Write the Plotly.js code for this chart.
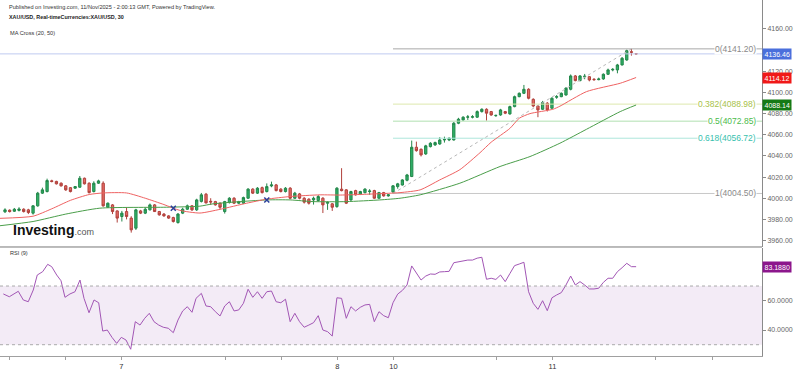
<!DOCTYPE html>
<html><head><meta charset="utf-8">
<script src="https://cdn.plot.ly/plotly-3.0.1.min.js"></script>
<style>html,body{margin:0;padding:0;background:#fff;}#chart{width:800px;height:371px;}</style>
</head><body><div id="chart"></div>
<script>
// ---- data (XAU/USD, 30 min) ----
const openP = [3987.2,3988.7,3987.7,3988.5,3989.6,3989.0,3985.9,3992.8,4004.8,4006.3,
4016.5,4015.9,4014.2,4011.7,4010.0,4009.5,4010.4,4018.9,4014.2,4006.3,
4014.2,4014.2,3991.5,3993.7,3988.0,3982.7,3987.4,3981.2,3971.7,3988.0,
3985.9,3989.0,3993.7,3987.4,3985.0,3983.3,3981.7,3977.0,3985.9,3989.6,
3992.8,3989.0,3997.0,4003.8,3997.1,3996.8,3995.3,3987.4,3995.9,4000.0,
3995.3,3995.3,4000.0,4008.6,4004.8,4010.0,4006.3,4011.6,4012.6,4008.6,
4006.3,4009.5,4000.0,4004.1,4000.0,3999.1,3998.4,3997.8,4000.0,3995.3,
3994.7,3992.1,4008.6,4007.9,3998.4,4007.2,4003.8,4005.3,4006.3,4007.2,
4000.0,4005.3,4002.2,4006.0,4011.0,4012.5,4017.0,4020.5,4048.2,4046.3,
4041.9,4048.8,4050.4,4051.3,4055.1,4055.1,4055.1,4070.9,4074.0,4076.6,
4076.6,4076.6,4081.9,4084.1,4081.9,4078.0,4078.7,4081.9,4079.7,4086.6,
4096.0,4099.2,4103.0,4093.5,4087.2,4084.1,4089.8,4085.1,4095.5,4096.0,
4097.6,4103.0,4115.6,4111.2,4114.9,4114.9,4112.5,4112.1,4112.8,4117.2,
4121.3,4121.3,4126.0,4130.7,4138.5,4136.7];
const highP = [3990.5,3989.5,3990.8,3991.5,3990.5,3990.0,3993.5,4006.0,4010.0,4018.5,
4017.5,4016.5,4015.0,4012.5,4010.5,4011.5,4021.0,4019.5,4015.0,4016.0,
4017.5,4016.0,3996.0,3994.5,3988.5,3988.0,3991.0,3983.0,3990.0,3989.0,
3991.0,3995.0,3994.5,3988.0,3986.0,3984.0,3982.5,3986.0,3991.0,3994.0,
3993.5,3999.5,4005.0,4005.0,4000.0,3997.5,3996.0,3997.5,4001.0,4001.0,
3997.5,4001.5,4009.5,4009.5,4010.5,4011.0,4014.0,4015.7,4013.5,4009.5,
4010.5,4010.5,4006.0,4005.0,4001.0,4000.0,4001.5,4003.0,4001.0,3997.0,
3995.5,4010.5,4028.4,4008.5,4007.0,4008.0,4007.0,4009.5,4008.6,4008.0,
4006.0,4006.0,4004.0,4012.5,4014.5,4018.0,4023.0,4054.5,4053.5,4047.0,
4050.5,4053.0,4053.5,4057.7,4058.2,4057.5,4072.0,4076.0,4077.5,4078.7,
4078.5,4083.0,4085.0,4085.0,4082.5,4079.0,4084.5,4082.5,4087.5,4097.0,
4100.0,4107.1,4104.0,4094.5,4088.0,4092.0,4091.0,4095.5,4097.5,4100.0,
4105.0,4117.0,4116.5,4116.5,4117.5,4115.5,4113.5,4114.0,4118.0,4122.5,
4123.0,4127.0,4133.5,4140.5,4141.2,4137.0];
const lowP = [3986.0,3986.5,3987.0,3987.5,3986.5,3985.0,3984.5,3992.0,4004.0,4005.5,
4015.0,4013.0,4011.0,4007.0,4005.5,4009.0,4010.0,4013.0,4004.5,4005.5,
4013.5,3992.0,3991.0,3985.0,3977.0,3978.0,3980.0,3967.5,3970.0,3985.0,
3985.0,3988.5,3987.0,3983.5,3982.5,3980.5,3977.0,3976.0,3985.0,3989.0,
3988.0,3988.0,3996.0,3995.0,3993.7,3993.0,3989.5,3985.5,3995.0,3994.5,
3994.5,3994.5,3999.5,4004.0,4004.0,4004.5,4005.5,4010.4,4006.5,4005.5,
4005.5,3999.0,3999.5,3999.0,3995.0,3994.0,3994.0,3997.0,3986.0,3989.0,
3988.0,3991.0,4006.5,3994.5,3997.5,4002.5,4003.0,4004.5,4003.2,3999.5,
3999.5,4001.5,4001.5,4004.5,4009.0,4012.0,4016.0,4020.0,4044.0,4039.5,
4041.0,4048.0,4049.5,4050.5,4052.6,4054.0,4054.5,4070.0,4073.5,4074.0,
4075.5,4076.0,4081.0,4073.4,4078.0,4077.0,4078.0,4079.5,4079.0,4086.0,
4095.5,4098.5,4093.5,4086.0,4076.6,4083.5,4082.0,4084.5,4094.0,4095.5,
4097.0,4102.0,4110.5,4110.5,4112.5,4110.5,4111.0,4111.5,4112.0,4116.5,
4120.0,4118.1,4125.5,4130.0,4134.8,4136.2];
const closeP = [3989.0,3987.4,3989.6,3989.8,3987.4,3986.5,3992.8,4004.8,4007.9,4016.7,
4015.8,4013.6,4011.7,4007.9,4006.3,4011.0,4018.9,4013.6,4005.3,4014.2,
4016.4,3992.8,3995.3,3987.4,3981.2,3985.9,3982.7,3970.1,3989.0,3985.9,
3989.6,3993.7,3987.4,3984.3,3983.3,3981.2,3978.0,3985.0,3989.6,3992.8,
3989.0,3998.4,4003.2,3995.6,3996.5,3993.7,3991.5,3996.8,4000.0,3995.3,
3996.8,4000.6,4008.6,4004.8,4009.5,4005.3,4011.0,4012.6,4007.2,4006.3,
4009.5,4000.0,4004.8,4000.0,3996.3,3995.3,4000.0,4001.6,3993.7,3995.9,
3991.5,4009.5,4007.2,3995.3,4006.3,4003.2,4006.3,4008.6,4006.8,4000.0,
4005.3,4002.2,4003.2,4011.7,4013.6,4017.3,4022.0,4048.2,4045.0,4041.0,
4049.5,4052.0,4052.6,4055.1,4055.5,4056.7,4070.9,4074.7,4076.6,4076.9,
4077.0,4081.9,4084.1,4080.4,4078.7,4078.3,4083.5,4080.4,4086.6,4096.0,
4099.2,4103.0,4094.5,4087.2,4083.5,4090.4,4083.5,4094.5,4096.0,4099.2,
4104.0,4115.6,4111.2,4115.6,4115.3,4111.8,4112.1,4112.7,4117.2,4121.3,
4121.8,4126.0,4132.3,4139.5,4138.0,4136.46];

// MA(20) and MA(50) lines (bar index, value)
const ma20Idx = [-1.07,6,10,14,18,21,26,30,34,37.4,41.7,46,51.7,56,61,67.4,71.7,77.4,84.5,88.8,93,97.3,101.6,104,108,110,112.3,117.2,118.7,124.4,131.6,135];
const ma20Val = [3981,3983,3990,3998,4003.5,4005,4005,4000,3994,3988.5,3986,3989.5,3995.3,3999.1,4001.6,4003.2,4003,4003.8,4005.3,4007.9,4017.3,4027,4043,4053,4066,4075.6,4080,4084.1,4087,4100.8,4108.7,4114.12];
const ma50Idx = [-1.07,6,13,20.3,34.5,41.7,44.5,56,61,65.9,73,80.2,84.5,88.8,97.3,105.9,112.3,118.7,124.4,131.6,135];
const ma50Val = [3974,3978,3985,3990.6,3991.5,3992.5,3994.7,3998.4,3998.4,3996.8,3996.8,3998.4,4000,4003.2,4014.2,4030,4039.4,4052,4065.2,4081.9,4088.14];
const crossIdx = [36, 56];
const crossVal = [3990.6, 3998.4];

// Fibonacci retracement
const fibLevels = ['0','0.382','0.5','0.618','1'];
const fibValues = [4141.20, 4088.98, 4072.85, 4056.72, 4004.50];
const fibLineColors = ['#a8a8a8','#dde8ad','#b0e0b0','#ade6dc','#c8c8c8'];
const fibTextColors = ['#8a8a8a','#a8c24a','#4cbb4c','#38bfae','#8a8a8a'];
const fibStartIdx = 83;
const fibEndIdx = 134;

// RSI(9)
const rsiIdx = [-0.36,0.92,2.84,3.91,4.98,6.05,6.9,8.06,9.13,9.99,11.06,11.98,12.83,13.9,14.97,16.04,16.9,17.97,19.04,20.04,
20.9,21.88,22.89,23.89,24.88,25.88,26.89,27.87,28.88,29.88,30.87,31.87,32.88,33.86,34.93,36,37,38,39,40,
40.86,42,43,44,45,46,47,48,49,50,51,52,53,54,55,56,57,58,59,60,
61,62,63,64,65,66,67,68,69,70,71,72,73,74,75,76,77,78,79,80,
81,82,83,84,85,86,87,88,89,90,91,92,93,94,95,96,97,98,99,100,
101,102,103,104,105,106,107,108,109,110,111,112,113,114,115,116,117,118,119,120,
121,122,123,124,125,126,127,128,129,130,131,132,133,134,135];
const rsiVal = [64.6,62.7,66.4,60.5,59.3,67.3,77.5,79.8,84.8,83.2,77.5,73.6,62.3,64.6,66.1,74.1,61.6,51.8,60.5,58.6,
39.3,40,35,30.9,35,33.2,26.9,45.7,43.4,48,51.4,45.7,43.4,41.9,41.2,38.2,46.8,53,55.9,52.1,
61.6,65,56.4,55.9,52.5,49.6,56.4,59.3,53,53.7,58.2,67.8,62.3,66.1,61.6,66.1,66.6,59.3,58.6,61,
45.7,51.4,45.7,41.9,43.4,45,49.8,40,38.9,35.9,62,61.6,48,55.9,53,55.5,57.1,57.5,45.7,52.5,
49.8,48.4,58.6,64.5,67,70.7,83.7,78.7,74.1,76.8,78.2,78,79.6,79.8,80,85.9,86.5,87.3,87.7,87.7,
89,89.6,74.6,75.3,74.5,77.5,73,78.5,83.9,85,86.2,66.1,58.2,54.1,60,53.2,62,63.9,65.5,70.7,
76.8,70.7,73,70.7,68,68,68.5,72.5,75.3,75.3,79.8,82.5,85.5,83.2,83.188];

// Axis ticks (labels hidden behind the value tags are left blank)
const xTickVals = [0.9,13,24.9,47.1,59.2,71.1,83.1,105.1,117.1,139.2,151.3];
const xTickText = ['12:00','','7','','','8','10','','11','',''];
const priceTicks = [3960,3980,4000,4020,4040,4060,4080,4100,4120,4140,4160];
const priceTickText = ['3960.00','3980.00','4000.00','4020.00','4040.00','4060.00','4080.00','4100.00','4120.00','','4160.00'];
const rsiTicks = [40,60,80];
const rsiTickText = ['40.0000','60.0000',''];
const lastPrice = 4136.46, lastMa20 = 4114.12, lastMa50 = 4088.14, lastRsi = 83.188;

// ---- build ----
const X0 = -1.07, X1 = 161.93;
const idx = openP.map((_, i) => i);
const FONT = 'Liberation Sans, Arial, sans-serif';
const traces = [];

traces.push({type:'scatter', mode:'lines', x:[X0, X1], y:[lastPrice, lastPrice],
  line:{color:'#bfcaf0', width:1}, hoverinfo:'skip', xaxis:'x', yaxis:'y'});
fibValues.forEach((v, k) => {
  traces.push({type:'scatter', mode:'lines', x:[fibStartIdx, X1], y:[v, v],
    line:{color:fibLineColors[k], width:1}, hoverinfo:'skip', xaxis:'x', yaxis:'y'});
});
traces.push({type:'scatter', mode:'lines', x:[fibStartIdx, fibEndIdx], y:[fibValues[4], fibValues[0]],
  line:{color:'#b8b8b8', width:1, dash:'3px,3px'}, hoverinfo:'skip', xaxis:'x', yaxis:'y'});
traces.push({type:'scatter', mode:'lines', x:ma50Idx, y:ma50Val, line:{color:'#4a9e4a', width:1, shape:'spline', smoothing:0.6}, xaxis:'x', yaxis:'y'});
traces.push({type:'scatter', mode:'lines', x:ma20Idx, y:ma20Val, line:{color:'#ef6262', width:1, shape:'spline', smoothing:0.6}, xaxis:'x', yaxis:'y'});
traces.push({type:'candlestick', x:idx, open:openP, high:highP, low:lowP, close:closeP,
  increasing:{line:{color:'#23874a', width:1}, fillcolor:'#2fb068'},
  decreasing:{line:{color:'#b0403b', width:1}, fillcolor:'#e66a64'},
  xaxis:'x', yaxis:'y', hoverinfo:'skip'});
traces.push({type:'scatter', mode:'markers', x:crossIdx, y:crossVal,
  marker:{symbol:'x-thin', size:5, line:{color:'#2a3f9a', width:1.5}}, xaxis:'x', yaxis:'y'});
traces.push({type:'scatter', mode:'lines', x:rsiIdx, y:rsiVal, line:{color:'#a256b5', width:1}, xaxis:'x', yaxis:'y2'});

const H = 356; // plot-area height in px
const py = p => (H - p) / H; // pixel row -> paper y
const px = p => p / 762;

const annotations = [
  {text:'Published on Investing.com, 11/Nov/2025 - 2:00:13 GMT, Powered by TradingView.', x:px(7), y:py(7), xanchor:'left', yanchor:'middle', font:{size:5.6, color:'#333'}},
  {text:'<b>XAU/USD, Real-timeCurrencies:XAU/USD, 30</b>', x:px(7), y:py(17.5), xanchor:'left', yanchor:'middle', font:{size:5.4, color:'#222'}},
  {text:'MA Cross (20, 50)', x:px(8), y:py(33), xanchor:'left', yanchor:'middle', font:{size:5.6, color:'#333'}},
  {text:'RSI (9)', x:px(8), y:py(253), xanchor:'left', yanchor:'middle', font:{size:5.6, color:'#333'}},
  {text:'<b>Investing</b><span style="font-size:9px;color:#555">.com</span>', x:px(11), y:py(230), xanchor:'left', yanchor:'middle', font:{size:14, color:'#111'}}
].map(a => Object.assign({xref:'paper', yref:'paper', showarrow:false}, a));

fibValues.forEach((v, k) => {
  annotations.push({xref:'paper', yref:'y', x:px(757), y:v, xanchor:'right', yanchor:'middle', showarrow:false,
    text: fibLevels[k] + '(' + v.toFixed(2) + ')', font:{size:8.5, color:fibTextColors[k]},
    bgcolor:'#ffffff', borderpad:0});
});
const tag = (yref, y, txt, col) => ({xref:'paper', yref:yref, x:1, y:y, xanchor:'left', yanchor:'middle', xshift:0,
  showarrow:false, text:txt, bgcolor:col, borderpad:1.5, font:{size:7, color:'#fff'}});
annotations.push(tag('y', lastPrice, lastPrice.toFixed(2), '#4a6fdc'));
annotations.push(tag('y', lastMa20, lastMa20.toFixed(2), '#f01818'));
annotations.push(tag('y', lastMa50, lastMa50.toFixed(2), '#157a15'));
annotations.push(tag('y2', lastRsi, lastRsi.toFixed(4), '#8c168c'));

const layout = {
  width:800, height:371, margin:{l:0, r:38, t:0, b:15},
  paper_bgcolor:'#fff', plot_bgcolor:'#fff', showlegend:false, hovermode:false,
  font:{family:FONT, size:7, color:'#666'},
  xaxis:{range:[X0, X1], anchor:'y2', showgrid:false, zeroline:false, showline:true, linecolor:'#a0a0a0',
    ticks:'outside', ticklen:3, tickcolor:'#a0a0a0', tickvals:xTickVals, ticktext:xTickText,
    tickfont:{size:7.5, color:'#333', family:FONT}, rangeslider:{visible:false}, fixedrange:true},
  yaxis:{domain:[0.3065, 1], range:[3954.0, 4187.4], side:'right', anchor:'x', showgrid:false, zeroline:false,
    showline:true, linecolor:'#8a8a8a', ticks:'outside', ticklen:3, tickcolor:'#8a8a8a',
    tickvals:priceTicks, ticktext:priceTickText, tickfont:{size:7, color:'#666', family:FONT}, fixedrange:true},
  yaxis2:{domain:[0, 0.3045], range:[22.3, 96.2], side:'right', anchor:'x', showgrid:false, zeroline:false,
    showline:true, linecolor:'#8a8a8a', ticks:'outside', ticklen:3, tickcolor:'#8a8a8a',
    tickvals:rsiTicks, ticktext:rsiTickText, tickfont:{size:7, color:'#666', family:FONT}, fixedrange:true},
  shapes:[
    {type:'rect', xref:'paper', yref:'y2', x0:0, x1:1, y0:30, y1:70, fillcolor:'rgba(160,90,180,0.12)', line:{width:0}, layer:'below'},
    {type:'line', xref:'paper', yref:'y2', x0:0, x1:1, y0:70, y1:70, line:{color:'#aaaaaa', width:1, dash:'3px,3px'}},
    {type:'line', xref:'paper', yref:'y2', x0:0, x1:1, y0:30, y1:30, line:{color:'#aaaaaa', width:1, dash:'3px,3px'}},
    {type:'line', xref:'paper', yref:'paper', x0:0, x1:1, y0:0.3062, y1:0.3062, line:{color:'#777', width:1}}
  ],
  annotations:annotations
};

Plotly.newPlot('chart', traces, layout, {displayModeBar:false, staticPlot:true});
</script></body></html>
